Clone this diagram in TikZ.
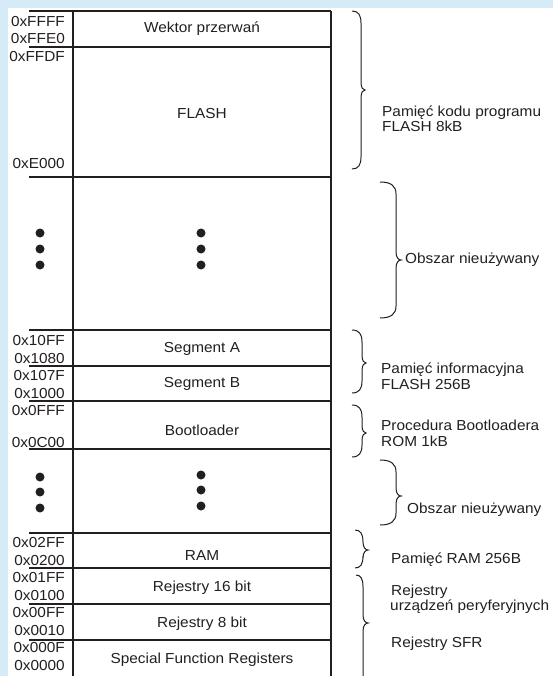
\documentclass[tikz,border=0pt]{standalone}
\usepackage{fontspec}
\setmainfont{Liberation Sans}[FakeStretch=1.06]
\definecolor{bgblue}{RGB}{214,235,248}
\definecolor{ink}{RGB}{35,31,32}

% curly brace: x, top, tip y, bottom, body offset, tip offset
\newcommand\membrace[6]{%
  \draw[bracestyle] (#1,#2) .. controls ({#1+0.7*#5},#2) and ({#1+#5},{#2+4}) .. ({#1+#5},{#2+12})
    -- ({#1+#5},{#3-8}) .. controls ({#1+#5},{#3-2}) and ({#1+#6-2},#3) .. ({#1+#6},#3)
    .. controls ({#1+#6-2},#3) and ({#1+#5},{#3+2}) .. ({#1+#5},{#3+8})
    -- ({#1+#5},{#4-12}) .. controls ({#1+#5},{#4-4}) and ({#1+0.7*#5},#4) .. (#1,#4);}

\begin{document}
\begin{tikzpicture}[x=1pt,y=-1pt,
  every node/.style={text=ink, inner sep=0pt, font=\fontsize{14.5}{17}\selectfont},
  frame/.style={draw=ink, line width=1.3pt},
  bracestyle/.style={draw=ink, line width=1pt},
  addr/.style={anchor=base east},
  region/.style={anchor=base},
  note/.style={anchor=base west},
  memdot/.style={circle, fill=ink, minimum size=9pt}]
\useasboundingbox (0,0) rectangle (553,676);
\clip (0,0) rectangle (553,676);
\fill[bgblue] (0,0) rectangle (553,676);
\fill[white] (8,8) rectangle (553,676);

% memory map frame
\draw[frame] (73,676) -- (73,11);
\draw[frame] (331,11) -- (331,676);
\foreach \y in {11,47,177,330,366,401,449,533,568,604,640}
  \draw[frame] (29,\y) -- (331,\y);

% region names
\node[region] (wek) at (202,33) {Wektor przerwań};
\node[region] (fla) at (202,119) {FLASH};
\node[region] (sga) at (202,352) {Segment A};
\node[region] (sgb) at (202,387) {Segment B};
\node[region] (boo) at (202,435) {Bootloader};
\node[region] (ram) at (202,560) {RAM};
\node[region] (r16) at (202,591) {Rejestry 16 bit};
\node[region] (r8)  at (202,627) {Rejestry 8 bit};
\node[region] (sfr) at (202,663) {Special Function Registers};

% addresses
\node[addr] (a1)  at (65,27)  {0xFFFF};
\node[addr] (a2)  at (65,44)  {0xFFE0};
\node[addr] (a3)  at (65,62)  {0xFFDF};
\node[addr] (a4)  at (65,169) {0xE000};
\node[addr] (a5)  at (65,345) {0x10FF};
\node[addr] (a6)  at (65,363) {0x1080};
\node[addr] (a7)  at (65,380) {0x107F};
\node[addr] (a8)  at (65,398) {0x1000};
\node[addr] (a9)  at (65,415) {0x0FFF};
\node[addr] (a10) at (65,447) {0x0C00};
\node[addr] (a11) at (65,547) {0x02FF};
\node[addr] (a12) at (65,565) {0x0200};
\node[addr] (a13) at (65,582) {0x01FF};
\node[addr] (a14) at (65,600) {0x0100};
\node[addr] (a15) at (65,617) {0x00FF};
\node[addr] (a16) at (65,635) {0x0010};
\node[addr] (a17) at (65,652) {0x000F};
\node[addr] (a18) at (65,670) {0x0000};

% ellipsis dots for unused areas
\foreach \y [count=\i] in {233,249,265} {
  \node[memdot] (dla\i) at (40,\y) {};
  \node[memdot] (dma\i) at (201,\y) {};
}
\foreach \y [count=\i] in {477,492,508} {
  \node[memdot] (dlb\i) at (40,\y) {};
}
\foreach \y [count=\i] in {475,490,506} {
  \node[memdot] (dmb\i) at (201,\y) {};
}

% braces
\membrace{352}{11}{90}{169}{9}{13}
\membrace{380}{182}{260}{318}{16}{21}
\membrace{352}{330}{363}{393}{10}{14}
\membrace{352}{405}{433}{457}{10}{14}
\membrace{380}{460}{496}{525}{16}{21}
\membrace{355}{530}{550}{568}{8}{13}
\membrace{356}{575}{623}{700}{7}{12}

% descriptions
\node[note] (n1a) at (382,117) {Pamięć kodu programu};
\node[note] (n1b) at (382,132) {FLASH 8kB};
\node[note] (n2)  at (405,263) {Obszar nieużywany};
\node[note] (n3a) at (381,373) {Pamięć informacyjna};
\node[note] (n3b) at (381,389) {FLASH 256B};
\node[note] (n4a) at (381,430) {Procedura Bootloadera};
\node[note] (n4b) at (381,446) {ROM 1kB};
\node[note] (n5)  at (407,513) {Obszar nieużywany};
\node[note] (n6)  at (391,563) {Pamięć RAM 256B};
\node[note] (n7a) at (391,595) {Rejestry};
\node[note] (n7b) at (390,610) {urządzeń peryferyjnych};
\node[note] (n8)  at (391,647) {Rejestry SFR};
\end{tikzpicture}
\end{document}
